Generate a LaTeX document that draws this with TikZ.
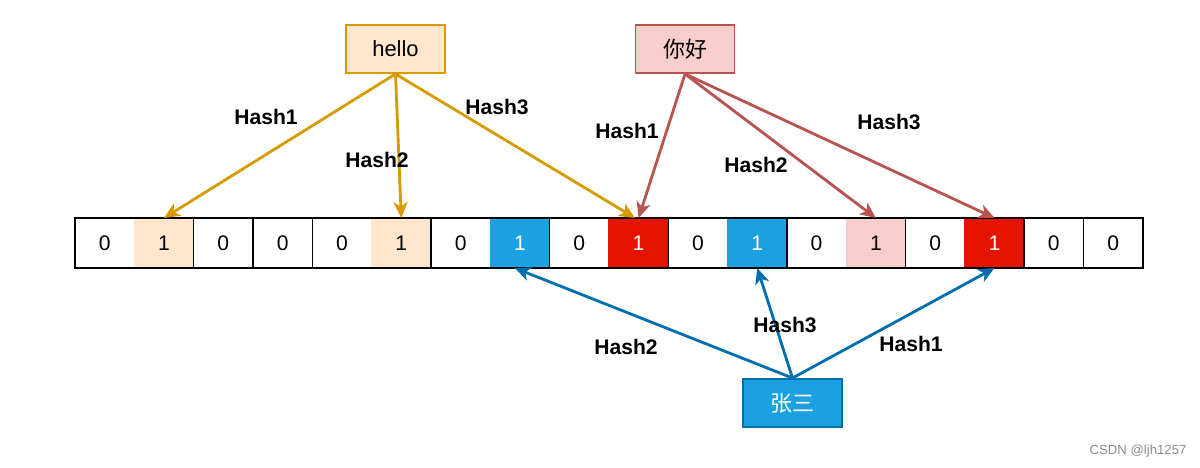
\documentclass[tikz,border=0pt]{standalone}
\usepackage{fontspec}
\setmainfont{Liberation Sans}
\newfontfamily\cjk{Noto Sans CJK SC}
\usetikzlibrary{positioning, arrows.meta}
\definecolor{hellofill}{HTML}{FFE6CC}
\definecolor{helloline}{HTML}{D79B00}
\definecolor{nihaofill}{HTML}{F8CECC}
\definecolor{nihaoline}{HTML}{B85450}
\definecolor{zsfill}{HTML}{1BA1E2}
\definecolor{zsline}{HTML}{006EAF}
\definecolor{hitred}{HTML}{E51400}
\def\plaincell{white}
\tikzset{
cell/.style={draw=black, thick, minimum width=1.1867cm, minimum height=1cm, inner sep=0pt, outer sep=0pt, font=\fontsize{12}{14}\selectfont}, % one bit of the array
word/.style={draw, line width=1.1pt, minimum width=1.98cm, minimum height=0.96cm, inner sep=0pt, font=\fontsize{12.5}{15}\selectfont}, % the inserted strings
hash/.style={font=\fontsize{12}{14}\selectfont\bfseries}, % edge labels
link/.style={-{Stealth[length=9pt, width=8pt, inset=2.5pt]}, line width=1.6pt}, % hash arrows
}

\begin{document}
\begin{tikzpicture}[x=0.02cm, y=-0.02cm]
        \useasboundingbox (0,0) rectangle (1200,467);

        % the bit array
        \foreach \v/\f/\t [count=\i] in {0/white/black, 1/hellofill/black, 0/white/black, 0/white/black, 0/white/black, 1/hellofill/black, 0/white/black, 1/zsfill/white, 0/white/black, 1/hitred/white, 0/white/black, 1/zsfill/white, 0/white/black, 1/nihaofill/black, 0/white/black, 1/hitred/white, 0/white/black, 0/white/black}{
            \ifnum\i=1
                \node[cell] (c1) at (104.67,243) {};
            \else
                \pgfmathtruncatemacro\j{\i-1}
                \node[cell, right=0pt of c\j] (c\i) {};
            \fi
            \ifx\f\plaincell\else
                \node[cell, fill=\f, draw=\f] at (c\i) {};
            \fi
            \node[text=\t, font=\fontsize{12}{14}\selectfont] at (c\i) {\v};
        }
        \draw[thick] (c1.north west) rectangle (c18.south east);

        % the three strings
        \node[word, fill=hellofill, draw=helloline] (hello) at (395.5,49) {hello};
        \node[word, fill=nihaofill, draw=nihaoline] (nihao) at (685,49) {\cjk 你好};
        \node[word, fill=zsfill, draw=zsline, text=white] (zs) at (792.5,403) {\cjk 张三};

        % hash arrows
        \draw[link, helloline] (hello.south) -- (c2.north);
        \draw[link, helloline] (hello.south) -- (c6.north);
        \draw[link, helloline] (hello.south) -- ([xshift=-2pt]c10.north);
        \draw[link, nihaoline] (nihao.south) -- (c10.north);
        \draw[link, nihaoline] (nihao.south) -- (c14.north);
        \draw[link, nihaoline] (nihao.south) -- (c16.north);
        \draw[link, zsline] (zs.north) -- ([xshift=-3pt]c8.south);
        \draw[link, zsline] (zs.north) -- (c12.south);
        \draw[link, zsline] (zs.north) -- (c16.south);

        % labels
        \node[hash] (l1) at (266,117) {Hash1};
        \node[hash] (l2) at (377,160) {Hash2};
        \node[hash] (l3) at (497,107) {Hash3};
        \node[hash] (l4) at (627,131) {Hash1};
        \node[hash] (l5) at (756,165) {Hash2};
        \node[hash] (l6) at (889,122) {Hash3};
        \node[hash] (l7) at (626,347) {Hash2};
        \node[hash] (l8) at (785,325) {Hash3};
        \node[hash] (l9) at (911,344) {Hash1};

        \node[text=black!45, font=\fontsize{7.5}{9}\selectfont] (mark) at (1138,451) {CSDN @ljh1257};
\end{tikzpicture}
\end{document}
